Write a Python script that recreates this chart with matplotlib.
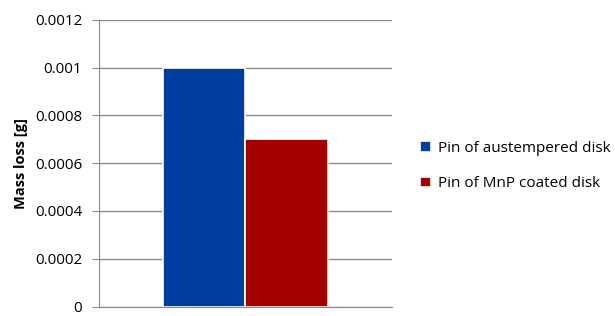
import matplotlib
matplotlib.use("Agg")
import matplotlib.pyplot as plt
from matplotlib.ticker import FixedLocator, FixedFormatter

plt.rcParams['font.family'] = ['Open Sans', 'DejaVu Sans']

series = ["Pin of austempered disk", "Pin of MnP coated disk"]
mass_loss = [0.001, 0.0007]
colors = ["#003DA0", "#A50000"]
yticks = [0, 0.0002, 0.0004, 0.0006, 0.0008, 0.001, 0.0012]
ytick_labels = ["0", "0.0002", "0.0004", "0.0006", "0.0008", "0.001", "0.0012"]

fig = plt.figure(figsize=(6.15, 3.16), dpi=100)
ax = fig.add_axes([0.161, 0.03, 0.476, 0.907])

width = 0.283
for i, (name, val, c) in enumerate(zip(series, mass_loss, colors)):
    x = (i - 0.5) * width
    ax.bar(x, val, width=width, color=c, edgecolor="white", linewidth=1.2,
           label=name, zorder=3)

ax.set_xlim(-0.5, 0.5)
ax.set_ylim(0, 0.0012)
ax.yaxis.set_major_locator(FixedLocator(yticks))
ax.yaxis.set_major_formatter(FixedFormatter(ytick_labels))
ax.set_xticks([])
ax.grid(axis="y", color="#8c8c8c", linewidth=1, zorder=0)

for s in ["top", "right"]:
    ax.spines[s].set_visible(False)
ax.spines["left"].set_color("#8c8c8c")
ax.spines["bottom"].set_color("#8c8c8c")
ax.tick_params(axis="y", length=5, color="#8c8c8c", labelsize=11, pad=7)

ax.set_ylabel("Mass loss [g]", fontsize=10.5, fontweight="bold", labelpad=5)

ax.legend(loc="center left", bbox_to_anchor=(1.05, 0.49), frameon=False,
          fontsize=11, handlelength=0.7, handleheight=0.7,
          handletextpad=0.5, labelspacing=1.35)

fig.savefig("out.png", dpi=100)
